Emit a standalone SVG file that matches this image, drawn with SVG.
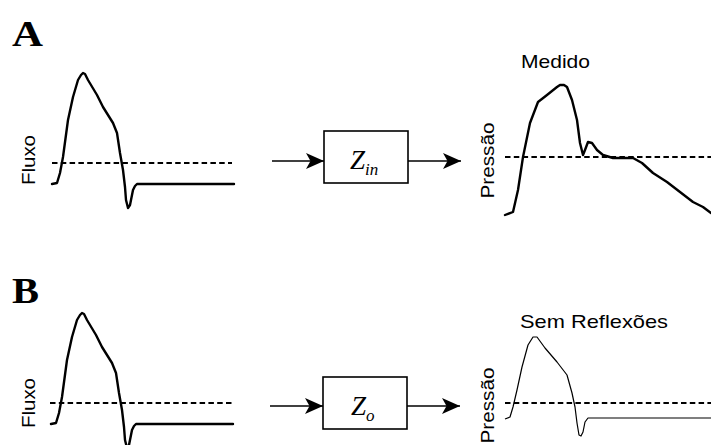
<svg xmlns="http://www.w3.org/2000/svg" width="711" height="445" viewBox="0 0 711 445">
  <style>
    .panel { font-family: "Liberation Serif", "Times New Roman", serif; font-weight: bold; font-size: 36px; fill: #000; }
    .lbl { font-family: "Liberation Sans", Arial, sans-serif; font-size: 19px; fill: #000; }
    .zt { font-family: "Liberation Serif", "Times New Roman", serif; font-style: italic; font-size: 27px; fill: #000; }
    .wave { fill: none; stroke: #000; stroke-width: 2.4; stroke-linejoin: round; stroke-linecap: round; }
    .thin { fill: none; stroke: #000; stroke-width: 1.2; stroke-linejoin: round; }
    .base { fill: none; stroke: #000; stroke-width: 2; stroke-dasharray: 5.5 3.3; }
    .box { fill: #fff; stroke: #000; stroke-width: 1.6; }
    .conn { fill: none; stroke: #000; stroke-width: 1.6; }
  </style>
  <defs>
    <marker id="head" markerUnits="userSpaceOnUse" markerWidth="20" markerHeight="18" refX="18" refY="9" orient="auto">
      <path d="M0,1 L18,9 L0,17 L4.5,9 Z" fill="#000"/>
    </marker>
    <!-- flow waveform shared by both panels -->
    <path id="flow" d="M52,184 L57,183 L60,173 L63,157 L68,120 L73,97 L78,80 L81,75 L83,73 L85,74 L88,80 L97,95 L103,107 L113,123 L117,133 L120,153 L123,170 L125,187 L126,200 L128,208 L130,205 L131,200 L133,190 L135,186 L137,184 L234,184"/>
  </defs>
  <rect width="711" height="445" fill="#fff"/>

  <!-- Panel A -->
  <g id="panel-a">
    <text class="panel" x="12" y="46" textLength="31" lengthAdjust="spacingAndGlyphs">A</text>
  </g>
  <g id="flow-a">
    <line class="base" x1="52" y1="163" x2="232" y2="163"/>
    <use href="#flow" class="wave"/>
    <text class="lbl" transform="translate(35,160) rotate(-90)" text-anchor="middle" textLength="50" lengthAdjust="spacingAndGlyphs">Fluxo</text>
  </g>
  <g id="zin">
    <rect class="box" x="324" y="131" width="84" height="52"/>
    <text class="zt" x="350" y="169">Z<tspan font-size="17" dy="6">in</tspan></text>
  </g>
  <g id="pressure-a">
    <line class="base" x1="505" y1="157" x2="711" y2="157"/>
    <path class="wave" d="M505,215 L513,212 L518,190 L523,157 L530,123 L538,102 L547,95 L557,87 L560,85 L564,85 L567,87 L572,100 L577,120 L580,143 L583,155 L585,150 L588,142 L592,143 L597,150 L603,155 L613,158 L633,158 L642,163 L653,173 L667,182 L680,192 L693,202 L703,207 L711,213"/>
    <text class="lbl" transform="translate(494,160.5) rotate(-90)" text-anchor="middle" textLength="76" lengthAdjust="spacingAndGlyphs">Pressão</text>
    <text class="lbl" x="521" y="68" textLength="69" lengthAdjust="spacingAndGlyphs">Medido</text>
  </g>

  <!-- Panel B -->
  <g id="panel-b">
    <text class="panel" x="12" y="303" textLength="27" lengthAdjust="spacingAndGlyphs">B</text>
  </g>
  <g id="flow-b">
    <line class="base" x1="50" y1="403" x2="232" y2="403"/>
    <use href="#flow" class="wave" transform="translate(-1,240)"/>
    <text class="lbl" transform="translate(35,403) rotate(-90)" text-anchor="middle" textLength="50" lengthAdjust="spacingAndGlyphs">Fluxo</text>
  </g>
  <g id="zo">
    <rect class="box" x="323" y="377" width="84" height="52"/>
    <text class="zt" x="351" y="415">Z<tspan font-size="17" dy="6">o</tspan></text>
  </g>
  <g id="pressure-b">
    <line class="base" x1="505" y1="403" x2="711" y2="403"/>
    <path class="thin" d="M505,419 L510,417 L513,407 L517,390 L522,367 L528,345 L533,337 L537,337 L545,348 L557,362 L567,375 L572,393 L575,407 L577,423 L579,435 L581,436 L583,432 L585,422 L588,418 L711,418"/>
    <text class="lbl" transform="translate(494,405.5) rotate(-90)" text-anchor="middle" textLength="76" lengthAdjust="spacingAndGlyphs">Pressão</text>
    <text class="lbl" x="520" y="328" textLength="148" lengthAdjust="spacingAndGlyphs">Sem Reflexões</text>
  </g>

  <!-- Connectors -->
  <g id="connectors">
    <line class="conn" x1="272" y1="161" x2="324" y2="161" marker-end="url(#head)"/>
    <line class="conn" x1="408" y1="161" x2="461" y2="161" marker-end="url(#head)"/>
    <line class="conn" x1="270" y1="406" x2="323" y2="406" marker-end="url(#head)"/>
    <line class="conn" x1="407" y1="406" x2="460" y2="406" marker-end="url(#head)"/>
  </g>
</svg>
